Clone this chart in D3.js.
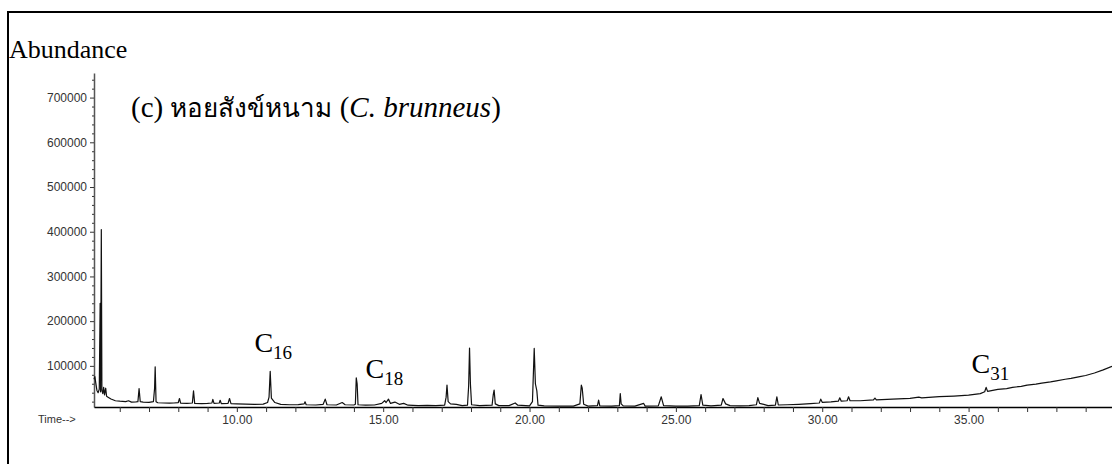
<!DOCTYPE html>
<html>
<head>
<meta charset="utf-8">
<script src="https://cdn.jsdelivr.net/npm/d3@7"></script>
<style>
body{margin:0;background:#fff;}
svg{display:block;}
</style>
</head>
<body>
<div id="chart"></div>
<script>
// retention time (min) and abundance
var rt = [5.12,5.15,5.18,5.22,5.26,5.30,5.33,5.345,5.37,5.39,5.42,5.45,5.48,5.52,5.55,5.60,5.70,5.85,6.00,6.20,6.30,6.40,6.55,6.62,6.66,6.70,6.80,7.00,7.15,7.19,7.21,7.24,7.30,7.50,7.70,7.85,8.00,8.04,8.08,8.30,8.48,8.52,8.56,8.80,9.00,9.15,9.18,9.22,9.40,9.43,9.47,9.70,9.75,9.80,10.00,10.30,10.60,10.90,11.05,11.10,11.14,11.18,11.30,11.50,11.80,12.10,12.30,12.33,12.37,12.70,12.95,13.02,13.08,13.40,13.60,13.70,14.00,14.05,14.08,14.11,14.14,14.40,14.70,14.95,15.05,15.10,15.18,15.25,15.40,15.55,15.70,15.85,16.20,16.50,16.80,17.10,17.15,17.18,17.22,17.30,17.50,17.70,17.88,17.92,17.95,17.98,18.02,18.30,18.72,18.76,18.79,18.83,18.95,19.30,19.51,19.60,20.00,20.10,20.16,20.20,20.25,20.29,20.50,21.00,21.50,21.72,21.77,21.80,21.85,22.00,22.32,22.36,22.40,22.80,23.07,23.10,23.13,23.20,23.60,23.90,23.95,24.40,24.50,24.58,25.00,25.40,25.80,25.86,25.92,26.20,26.55,26.61,26.70,26.85,27.20,27.50,27.75,27.80,27.86,28.00,28.15,28.40,28.45,28.50,28.80,29.20,29.60,29.90,29.95,30.00,30.30,30.55,30.60,30.65,30.85,30.90,30.95,31.30,31.75,31.80,31.85,32.40,33.00,33.30,33.40,34.00,34.50,35.00,35.40,35.55,35.60,35.65,36.00,36.30,36.50,36.80,37.00,37.30,37.50,37.80,38.00,38.30,38.50,38.80,39.00,39.30,39.60,39.90];
var abundance = [70000,76000,62000,45000,40000,48000,240000,42000,405000,45000,38000,52000,35000,50000,32000,30000,26000,22000,21000,20000,22000,19000,19500,20000,49000,20000,19000,18500,20000,50000,98000,20000,17500,17000,16500,17000,18000,27000,16500,16000,17000,44000,16000,15500,16000,17000,25000,16000,17000,23000,15500,16000,27000,15500,15000,14500,14000,14500,18000,30000,88000,28000,18000,14000,13000,13500,15000,19600,13000,12500,14000,25600,13000,12500,18000,13000,12500,14000,73000,60000,13000,12000,12500,16000,22000,18000,25600,16000,19000,14000,16000,12000,11000,11500,11000,12000,30000,57000,20000,15000,14000,11000,12000,55000,140000,60000,13000,11000,12000,35000,46000,15000,11000,11000,17000,12000,10500,20000,139000,60000,44000,12000,10500,10000,10000,15000,57000,50000,14000,10000,11000,23400,10500,10000,11000,38000,15000,10500,10000,16000,10000,10500,30800,11000,10000,10000,11000,36000,12000,10500,12000,27000,15000,11000,10500,11000,13000,29000,16000,14000,11000,12000,30800,12500,13000,14000,15500,17000,25600,18500,19500,21000,28600,21000,22000,30800,22000,22000,24000,28000,24000,25600,27500,30000,28500,31000,32500,34600,38000,42000,51800,43000,47500,49000,52000,54000,57000,59000,61500,64000,66500,70000,72000,76000,78500,84000,91000,99000];

var yMajor = [100000,200000,300000,400000,500000,600000,700000];
var xMajor = [10,15,20,25,30,35];

var peakLabels = [
  {base:"C", sub:"16", t:10.6, v:132000},
  {base:"C", sub:"18", t:14.4, v:72000},
  {base:"C", sub:"31", t:35.1, v:85000}
];

var W = 1112, H = 464;
var svg = d3.select("#chart").append("svg")
    .attr("width", W)
    .attr("height", H);

// outer frame (runs off the right and bottom edges)
svg.append("rect")
    .attr("x", 8).attr("y", 12)
    .attr("width", 1200).attr("height", 600)
    .attr("fill", "none")
    .attr("stroke", "#000")
    .attr("stroke-width", 2);

var x = d3.scaleLinear()
    .domain([5.12, 39.9])
    .range([94, 1112]);

var y = d3.scaleLinear()
    .domain([8000, 755000])
    .range([407, 73]);

// minor y ticks every 20000
var yMinor = d3.range(20000, 755000, 20000).filter(function(d){ return d % 100000 !== 0; });

var yAxis = svg.append("g")
    .attr("transform", "translate(94,0)")
    .call(d3.axisLeft(y).tickValues(yMajor).tickSize(4).tickSizeOuter(0)
        .tickFormat(function(d){ return String(d); }));
svg.append("g")
    .attr("transform", "translate(94,0)")
    .call(d3.axisLeft(y).tickValues(yMinor).tickSize(2).tickSizeOuter(0).tickFormat(""))
    .select(".domain").remove();

yAxis.select(".domain").attr("stroke", "#555").attr("stroke-width", 1.5);

var xTicks = d3.range(6, 40);
var xAxis = svg.append("g")
    .attr("transform", "translate(0,407)")
    .call(d3.axisBottom(x).tickValues(xTicks).tickSize(5).tickSizeOuter(0)
        .tickFormat(function(d){ return xMajor.indexOf(d) >= 0 ? d.toFixed(2) : ""; }));
xAxis.select(".domain").attr("stroke", "#000").attr("stroke-width", 1.5);

svg.selectAll(".tick text")
    .attr("font-family", "'Liberation Sans', Arial, sans-serif")
    .attr("font-size", 12)
    .attr("fill", "#333");
svg.selectAll(".tick line").attr("stroke", "#333");

svg.append("text")
    .attr("x", 38).attr("y", 423)
    .attr("font-family", "'Liberation Sans', Arial, sans-serif")
    .attr("font-size", 11)
    .attr("fill", "#333")
    .text("Time-->");

// chromatogram trace
var pts = rt.map(function(t, i){ return {t: t, v: abundance[i]}; });
var line = d3.line()
    .x(function(d){ return x(d.t); })
    .y(function(d){ return y(d.v); });

svg.append("path")
    .attr("d", line(pts))
    .attr("fill", "none")
    .attr("stroke", "#111")
    .attr("stroke-width", 1.2)
    .attr("stroke-linejoin", "round");

// axis title and panel title
svg.append("text")
    .attr("x", 9).attr("y", 58)
    .attr("font-family", "'Times New Roman', 'Liberation Serif', serif")
    .attr("font-size", 26)
    .text("Abundance");

var title = svg.append("text")
    .attr("x", 131).attr("y", 117)
    .attr("font-family", "'Times New Roman', 'Liberation Serif', serif")
    .attr("font-size", 29);
title.append("tspan").text("(c) ");
title.append("tspan").attr("font-size", 26).text("หอยสังข์หนาม");
title.append("tspan").text(" (");
title.append("tspan").attr("font-style", "italic").text("C. brunneus");
title.append("tspan").text(")");

// peak labels
peakLabels.forEach(function(p){
  var tx = svg.append("text")
      .attr("x", x(p.t)).attr("y", y(p.v))
      .attr("font-family", "'Times New Roman', 'Liberation Serif', serif")
      .attr("font-size", 28);
  tx.append("tspan").text(p.base);
  tx.append("tspan").attr("font-size", 19).attr("dy", 7).text(p.sub);
});
</script>
</body>
</html>
